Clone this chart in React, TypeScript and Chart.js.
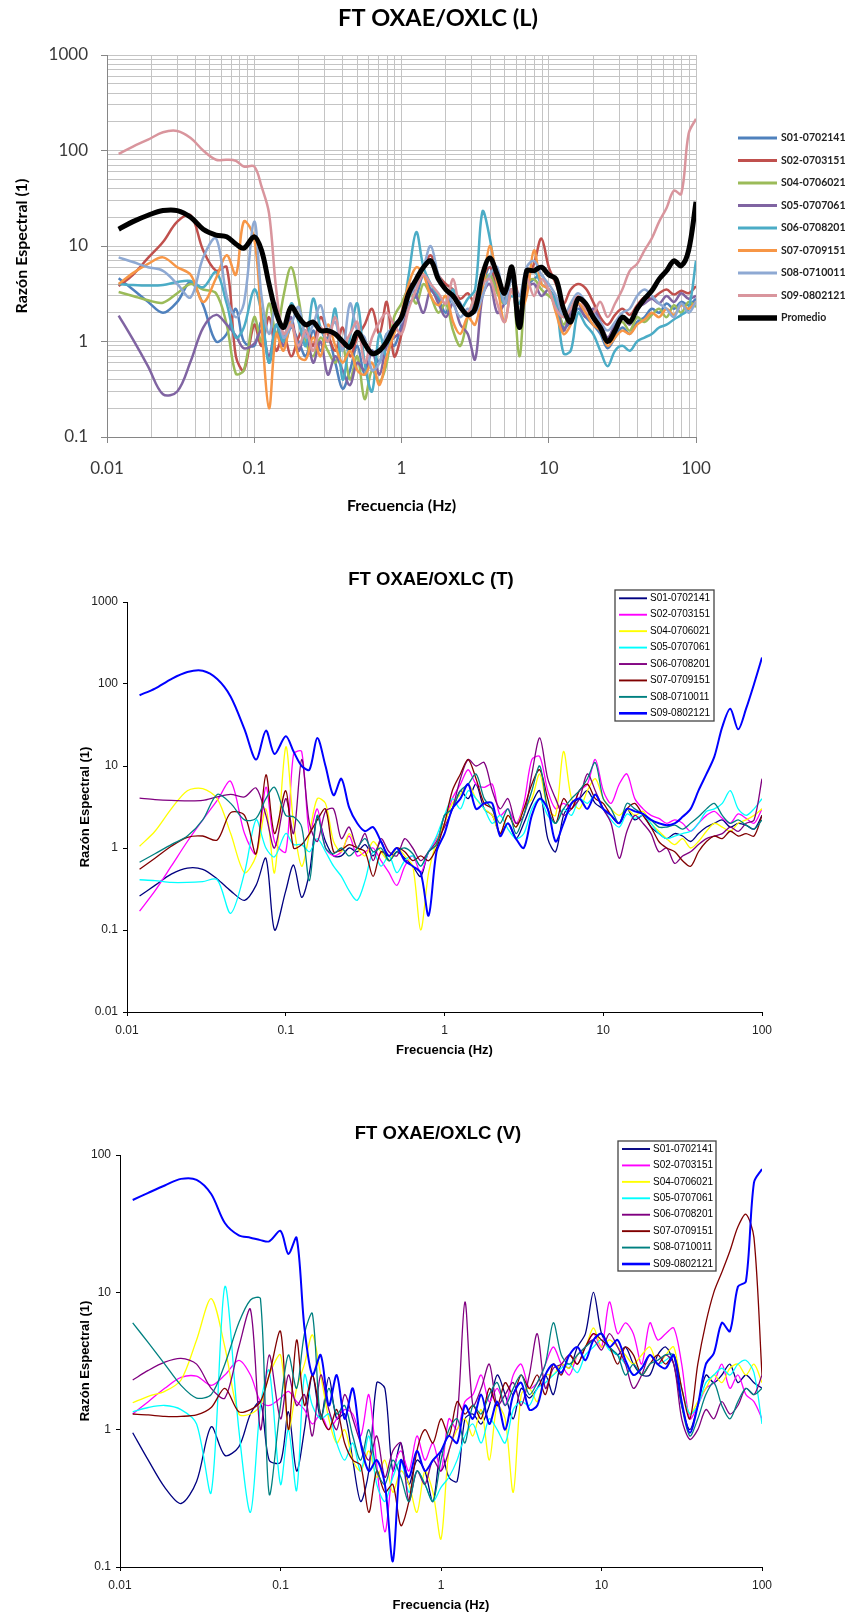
import React, { useEffect, useRef } from 'react';
import { Chart, registerables } from 'chart.js';

Chart.register(...registerables);

// ---------- shared axes data ----------
const FREQ = [
  0.012, 0.015, 0.019, 0.024, 0.03, 0.037, 0.045, 0.055, 0.065, 0.075, 0.085,
  0.1, 0.112, 0.126, 0.141, 0.158, 0.178, 0.2, 0.224, 0.251, 0.282, 0.316, 0.355, 0.398, 0.447, 0.501, 0.562, 0.631, 0.708, 0.794, 0.891,
  1, 1.12, 1.26, 1.41, 1.58, 1.78, 2, 2.24, 2.51, 2.82, 3.16, 3.55, 3.98, 4.47, 5.01, 5.62, 6.31, 7.08, 7.94, 8.91,
  10, 11.2, 12.6, 14.1, 15.8, 17.8, 20, 22.4, 25.1, 28.2, 31.6, 35.5, 39.8, 44.7, 50.1, 56.2, 63.1, 70.8, 79.4, 89.1, 100,
];

const X_MAJOR = [0.01, 0.1, 1, 10, 100];
const X_LABELS = ['0.01', '0.1', '1', '10', '100'];
const MINOR_STEPS = [2, 3, 4, 5, 6, 7, 8, 9];

const L_Y_MAJOR = [0.1, 1, 10, 100, 1000];
const L_Y_LABELS = ['0.1', '1', '10', '100', '1000'];
const T_Y_MAJOR = [0.01, 0.1, 1, 10, 100, 1000];
const T_Y_LABELS = ['0.01', '0.1', '1', '10', '100', '1000'];
const V_Y_MAJOR = [0.1, 1, 10, 100];
const V_Y_LABELS = ['0.1', '1', '10', '100'];

const SERIES_NAMES = ['S01-0702141', 'S02-0703151', 'S04-0706021', 'S05-0707061', 'S06-0708201', 'S07-0709151', 'S08-0710011', 'S09-0802121'];
const AVERAGE_NAME = 'Promedio';

// ---------- FT OXAE/OXLC (L) ----------
const L_S01 = [
  4.6, 3.5, 2.6, 2.0, 2.6, 4.2, 2.4, 1.0, 1.2, 2.2, 1.0,
  0.9, 1.6, 0.6, 1.2, 0.9, 1.4, 1.0, 0.7, 1.3, 0.8, 1.1, 0.6, 0.32, 0.5, 0.9, 0.45, 0.8, 0.6, 1.2, 0.9,
  1.5, 2.5, 3, 5, 3.5, 2.8, 2, 3.2, 2.5, 1.8, 2.6, 4, 6, 3.5, 2.8, 4.5, 2, 3.8, 4.5, 5,
  3.5, 2.8, 1.4, 1.6, 2.2, 1.8, 1.5, 1.2, 0.85, 1.1, 1.4, 1.2, 1.6, 1.8, 2.2, 2.0, 2.5, 2.2, 2.6, 2.4, 2.8,
];
const L_S02 = [
  3.8, 5, 7.5, 11, 18, 21, 9, 5.5, 6, 0.7, 0.5,
  1.5, 0.9, 1.8, 0.8, 1.2, 0.7, 1.1, 1.5, 0.9, 1.8, 1.2, 0.8, 1.4, 0.7, 1.1, 1.5, 2.2, 1.2, 2.6, 0.7,
  1.2, 3, 4.5, 6, 8, 5, 4, 3.5, 2.8, 3.2, 2.5, 4.5, 6, 4, 3.5, 5.5, 3, 4.5, 6.5, 12,
  6, 4, 2.5, 3.5, 4, 3.6, 2.6, 1.8, 1.5, 1.9, 2.2, 1.9, 2.4, 2.9, 2.8, 3.2, 3.5, 3.1, 3.4, 3.2, 3.8,
];
const L_S04 = [
  3.3, 3.0, 2.7, 2.55, 3.2, 4.0, 3.5, 3.2, 1.5, 0.46, 0.5,
  1.8, 1.0, 2.5, 1.2, 3, 6, 2.8, 1.0, 0.7, 1.1, 0.8, 0.6, 0.9, 0.4, 0.7, 0.25, 0.5, 0.38, 0.6, 1.8,
  2.5, 3.5, 2.5, 4, 3, 2, 2.5, 1.3, 0.9, 1.8, 3, 4, 5, 3.2, 2.5, 5, 0.7, 4, 4.5, 3.5,
  3, 2.5, 1.5, 2.2, 2.8, 2.4, 1.8, 1.5, 1.1, 1.4, 1.6, 1.3, 1.8, 1.6, 1.9, 2.2, 1.8, 2.4, 2.0, 2.6, 2.3,
];
const L_S05 = [
  1.87, 1.05, 0.55, 0.28, 0.3, 0.62, 1.4, 1.9, 1.5, 1.15, 0.85,
  0.95, 1.3, 0.7, 1.5, 0.9, 1.8, 0.8, 1.3, 0.6, 1.0, 0.45, 0.7, 0.5, 0.35, 0.6, 0.5, 0.8, 0.45, 0.9, 1.1,
  1.3, 4, 3, 2, 3.5, 2.5, 1.8, 2.5, 1.5, 1.2, 0.65, 3, 4, 2, 2.5, 3.5, 1.5, 3.5, 4, 3,
  3.5, 2.5, 1.3, 2, 2.5, 1.8, 2.2, 1.6, 1.1, 1.5, 1.8, 1.5, 2.2, 2.5, 2.8, 2.5, 3, 2.6, 3.2, 2.8, 3,
];
const L_S06 = [
  4.0, 3.9, 3.85, 3.9, 4.2, 4.3, 3.7, 5.3, 2.5, 1.1, 1.4,
  3.5, 2.0, 0.6, 1.5, 1.0, 2.5, 1.6, 0.9, 2.8, 1.4, 1.0, 2.2, 0.4, 1.1, 2.5, 0.6, 0.3, 1.2, 0.7, 1.5,
  1.8, 5, 14, 6, 4, 3, 2.5, 3.5, 2.2, 2.8, 3.5, 23, 12, 4, 2.5, 3, 2.5, 5, 5.5, 4,
  3.5, 2.5, 0.75, 0.8, 2, 1.5, 1.2, 0.8, 0.55, 0.8, 0.9, 0.8, 1.0, 1.1, 1.2, 1.4, 1.5, 1.7, 1.9, 2.2, 7,
];
const L_S07 = [
  4.0, 5.2, 6.5, 7.6, 6, 5, 2.6, 4.6, 8, 5, 18,
  12, 1.5, 0.2, 1.2, 0.8, 1.6, 0.7, 0.65, 1.1, 0.7, 1.5, 0.9, 0.6, 0.8, 0.5, 0.45, 0.6, 0.35, 0.7, 1.2,
  2, 4, 6, 5, 3, 2.4, 3, 1.6, 1.2, 1.8, 1.5, 3.5, 10, 4, 1.6, 3.5, 2, 3, 9, 4,
  3.5, 2, 1.2, 1.5, 2.5, 2, 1.5, 1.3, 0.9, 1.1, 1.3, 1.2, 1.5, 1.7, 2, 1.8, 2.2, 1.9, 2.4, 2.2, 2.6,
];
const L_S08 = [
  7.6, 6.8, 6, 5.5, 4, 2.9, 7.6, 12, 3, 1.8, 2.5,
  18, 3, 1.2, 2.5, 1.1, 1.5, 2.3, 1.1, 1.5, 2.4, 1.3, 1.6, 0.8, 2.5, 1.3, 1.1, 0.5, 0.6, 1.2, 1.4,
  1.6, 2.8, 4, 6, 10, 5, 3.5, 2.5, 1.8, 2.2, 2, 3, 5, 6, 2.5, 4.5, 3, 6, 7, 5,
  4, 3, 1.8, 2.5, 3.2, 2.6, 2, 1.6, 1.3, 1.6, 2, 2.2, 3, 3.5, 3, 2.5, 2.2, 1.8, 2.5, 2, 2.6,
];
const L_S09 = [
  92, 110, 130, 155, 160, 135, 100, 80, 80, 78, 68,
  68, 42, 22, 3.5, 1.2, 1.5, 0.9, 1.3, 0.8, 1.4, 1.0, 1.8, 0.9, 1.2, 1.6, 0.6, 1.1, 1.6, 2.0, 1.5,
  1.2, 2.2, 3.5, 5, 4, 3.2, 2.5, 4.5, 2.2, 2, 3, 4, 4.5, 2.5, 1.6, 3.5, 1.6, 4.5, 3, 4.5,
  3.5, 2.2, 1.8, 2.2, 3, 2.2, 2, 2.6, 1.8, 2.5, 3.5, 5.5, 6.5, 9, 12, 18, 25, 38, 35, 150, 215,
];
const L_AVG = [
  15, 18, 21, 23.5, 23.5, 20, 15, 13, 12.5, 10.5, 9.5,
  12.5, 9, 4, 2, 1.4, 2.3, 1.8, 1.5, 1.6, 1.3, 1.3, 1.2, 1.0, 0.87, 1.25, 0.95, 0.75, 0.8, 1.0, 1.4,
  1.8, 3.2, 4.5, 6, 7, 4.5, 3.5, 3, 2.3, 1.9, 2.2, 5, 7.5, 5, 3.2, 6, 1.4, 5.5, 5.5, 6,
  5, 4.5, 2.2, 1.6, 2.8, 2.5, 1.8, 1.4, 1.0, 1.3, 1.8, 1.6, 2.2, 2.8, 3.4, 4.5, 5.5, 7, 6.2, 9, 29,
];

// ---------- FT OXAE/OXLC (T) ----------
const T_S01 = [
  0.26, 0.35, 0.48, 0.57, 0.55, 0.42, 0.3, 0.23, 0.35, 0.75, 0.1,
  0.3, 0.62, 0.25, 0.5, 2.4, 1.2, 0.8, 0.8, 1.0, 0.9, 1.1, 0.8, 1.2, 0.7, 0.9, 0.75, 0.6, 0.45, 0.9, 1.1,
  2.5, 3, 5, 4, 6, 3, 2.5, 1.5, 2, 1.3, 2, 3.5, 5, 1.3, 0.9, 2.5, 3.5, 4, 5, 3.5,
  3, 2.5, 2, 3, 2.2, 2.5, 1.8, 1.5, 1.3, 1.5, 1.4, 1.2, 1.5, 1.8, 2, 2.2, 1.8, 2, 1.9, 1.7, 2.5,
];
const T_S02 = [
  0.17, 0.3, 0.6, 1.2, 2.2, 3.8, 6.5, 1.5, 0.85, 5.5, 1.2,
  0.9, 14, 15, 1.5, 3, 1.0, 0.8, 0.9, 1.4, 0.8, 0.9, 1.0, 0.7, 0.5, 0.35, 0.6, 0.8, 0.5, 0.9, 1.3,
  2, 4, 6, 9, 6, 5.5, 6, 2.5, 3, 2, 3.5, 12, 13, 5, 3, 3.5, 3, 5, 6, 12,
  5, 3.5, 6, 8, 4, 3, 2.5, 2.3, 2, 2.2, 2, 1.6, 2, 2.5, 2.8, 2.3, 2, 2.6, 2.3, 2, 3,
];
const T_S04 = [
  1.05, 1.6, 3, 5, 5.3, 4, 1.5, 0.5, 0.8, 3, 0.5,
  17, 2, 0.6, 1.5, 4, 3.5, 1.2, 0.9, 1.5, 1.0, 0.8, 1.2, 0.9, 0.7, 1.0, 0.8, 0.6, 0.1, 0.5, 1.2,
  2, 3.5, 4.5, 6, 4, 3, 2.5, 1.5, 2.5, 1.8, 3, 4, 8, 3, 2.5, 15, 4, 3, 5, 7,
  4, 3, 2.5, 3, 2.5, 2.8, 2, 1.6, 1.3, 1.1, 1.3, 1.0, 1.2, 1.6, 2, 1.8, 1.6, 2, 2.2, 2.5, 3,
];
const T_S05 = [
  0.41, 0.4, 0.38, 0.38, 0.39, 0.41, 0.16, 0.5, 2.2, 1.0, 0.78,
  1.5, 1.1, 1.1, 0.9, 1.3, 0.9, 0.6, 0.45, 0.3, 0.23, 0.4, 0.9, 0.6, 0.8, 0.5, 0.7, 0.8, 0.6, 0.9, 1.4,
  2.5, 4, 3, 5, 4, 3, 2, 2.5, 1.7, 1.3, 1.5, 3, 4, 2.5, 2, 3, 2.5, 4, 3.5, 4.5,
  3, 2.2, 1.8, 2.6, 2.3, 2.5, 2, 1.5, 1.3, 1.4, 1.5, 1.6, 2, 2.8, 3, 3.5, 5, 3, 2.5, 3, 4,
];
const T_S06 = [
  4.05, 3.9, 3.8, 3.75, 3.8, 4.2, 4.5, 4.2, 5.4, 2.5, 1.0,
  4, 1.5, 12, 2, 1.2, 2.8, 3, 1.3, 1.8, 1.0, 1.5, 0.7, 1.3, 0.9, 0.8, 1.3, 1.0, 0.7, 0.9, 1.2,
  1.8, 3, 7, 12, 10, 11, 5, 3, 4, 2, 2.5, 8, 22, 7, 4, 2.5, 3, 4, 8, 5,
  3, 2, 0.75, 1.6, 2.5, 2, 1.5, 0.9, 1.0, 0.65, 0.8, 0.9, 1.1, 1.3, 1.4, 1.5, 1.8, 1.6, 2, 2.2, 7,
];
const T_S07 = [
  0.55, 0.75, 1.05, 1.35, 1.4, 1.25, 2.7, 2.5, 0.85, 7.8, 1.5,
  5, 1.0, 1.1, 1.5, 2.2, 3, 0.9, 0.95, 1.1, 1.0, 0.9, 0.45, 0.9, 0.8, 1.0, 0.9, 0.7, 0.8, 0.7, 1.0,
  2, 5, 8, 12, 7, 3.5, 3, 1.5, 2.5, 1.8, 3, 6, 9, 4, 2, 4, 3, 5, 6, 4,
  3.5, 2.5, 2, 3, 3.5, 2.5, 1.8, 1.2, 1.0, 0.9, 0.7, 0.6, 0.9, 1.2, 1.4, 1.3, 1.6, 1.4, 1.5, 1.4, 2.5,
];
const T_S08 = [
  0.67, 0.85, 1.1, 1.4, 2.2, 4.5, 3.5, 2.2, 2.3, 4, 5.5,
  2.5, 2.4, 1.8, 0.4, 2.5, 1.0, 0.85, 1.0, 0.8, 1.0, 1.3, 0.9, 1.0, 0.7, 0.9, 1.0, 0.85, 0.6, 0.9, 1.1,
  2.5, 3, 5, 6, 8, 4, 3, 2, 3, 1.5, 2.5, 5, 10, 3, 2, 3, 4, 5, 7, 11,
  4, 3, 2, 3.5, 3, 2.6, 2.2, 1.8, 1.8, 1.9, 1.7, 2, 2.4, 3, 3.5, 2.5, 2, 2.2, 1.9, 1.7, 2.2,
];
const T_S09 = [
  73, 88, 115, 140, 145, 115, 70, 28, 12, 27, 14,
  23, 15, 10, 9, 22, 10, 4.4, 7, 3.1, 2, 1.6, 1.8, 1.2, 0.8, 1.0, 0.7, 0.6, 0.5, 0.15, 0.9,
  1.5, 3, 4, 6, 3, 3.5, 3.5, 1.4, 2, 1.3, 1, 2.5, 4, 3, 1.2, 2, 3.5, 4, 3, 4.5,
  3, 2.5, 2, 3, 2.8, 2.6, 2.2, 2, 1.9, 2, 2.4, 3, 5, 8, 13, 30, 50, 28, 50, 100, 210,
];

// ---------- FT OXAE/OXLC (V) ----------
const V_S01 = [
  0.95, 0.6, 0.38, 0.29, 0.42, 1.05, 0.65, 0.75, 1.3, 1.6, 0.6,
  0.58, 1.35, 0.5, 1.0, 2.5, 1.2, 2.4, 1.2, 1.3, 0.6, 0.3, 0.5, 2.2, 2, 0.5, 0.8, 0.4, 0.6, 0.5, 0.3,
  0.7, 0.45, 0.42, 1.2, 1.3, 1.1, 1.5, 2.5, 1.8, 1.2, 2, 1.7, 2, 2.5, 1.8, 3, 2.8, 4, 5, 10,
  5, 4, 3.5, 4, 3, 2.5, 2.5, 3.5, 4, 3, 1.5, 1.0, 1.5, 2.5, 2.2, 2.5, 3, 2.2, 2.5, 2.2, 2,
];
const V_S02 = [
  1.3, 1.6, 2.0, 2.4, 2.45, 2.1, 2.5, 3.2, 2.5, 1.6, 1.5,
  1.7, 1.9, 1.6, 1.4, 1.1, 1.3, 1.0, 1.2, 1.4, 1.3, 0.9, 1.8, 0.55, 0.18, 0.5, 0.7, 0.5, 0.9, 0.6, 0.8,
  0.5, 1.2, 1.0, 1.6, 1.8, 2.5, 1.6, 2, 1.5, 2.5, 3, 2, 2.2, 3, 4, 3, 2.5, 3.5, 4, 5,
  4, 8.5, 5, 6, 5, 3, 6, 4.5, 5, 5.5, 3, 1.2, 1.5, 2, 2.2, 3, 2, 2.5, 1.8, 1.6, 1.2,
];
const V_S04 = [
  1.57, 1.75, 1.9, 2.3, 4.5, 9, 4, 1.3, 1.3, 1.5, 2.5,
  3.5, 1.0, 2, 3, 4.9, 2.5, 1.2, 0.8, 1.0, 0.6, 0.5, 0.7, 0.45, 0.6, 0.35, 0.5, 0.4, 0.25, 0.5, 0.35,
  0.16, 0.7, 1.0, 1.2, 0.9, 1.4, 0.6, 1.5, 1.2, 0.35, 1.8, 2, 1.6, 2.5, 2.5, 3, 2.8, 3.5, 4, 5.5,
  4, 4.5, 4, 3.5, 3, 3.5, 4, 3, 3.5, 4, 2, 1.3, 1.6, 2, 2.5, 2.2, 2.8, 3, 2.5, 3, 2.2,
];
const V_S05 = [
  1.35, 1.45, 1.5, 1.4, 1.1, 0.35, 11, 1.0, 0.25, 1.5, 2.7,
  0.4, 1.0, 0.36, 2.5, 1.5, 1.2, 1.3, 0.8, 0.6, 0.8, 0.5, 0.9, 0.4, 0.3, 0.45, 0.6, 0.35, 0.5, 0.4, 0.3,
  0.38, 0.45, 0.6, 0.9, 1.1, 0.8, 1.2, 1.0, 0.8, 1.4, 1.6, 1.5, 2, 2.2, 2.5, 2.8, 3, 2.6, 3.5, 4,
  4.5, 3.8, 3.5, 3, 2.5, 2.8, 3.5, 3, 3.2, 3.5, 2, 1.3, 1.5, 2.2, 2.5, 2.8, 2.5, 3, 3.2, 2.6, 1.1,
];
const V_S06 = [
  2.3, 2.7, 3.1, 3.3, 3.0, 2.0, 1.7, 4, 7.5, 1.0, 3.5,
  1.2, 2.5, 1.5, 1.8, 0.9, 2.5, 1.4, 1.0, 1.8, 1.2, 0.8, 0.6, 0.9, 0.45, 0.7, 0.8, 0.3, 0.5, 0.4, 0.6,
  0.5, 0.7, 1.2, 8.5, 1.5, 2, 3, 1.5, 1.8, 2.2, 1.5, 2.5, 5, 2, 2.8, 3, 3.5, 3, 4, 4.5,
  3.8, 5, 4, 3, 2, 2.5, 3.5, 3, 3.5, 3, 1.2, 0.85, 1.0, 1.4, 1.2, 1.6, 1.3, 1.5, 2, 1.8, 2.5,
];
const V_S07 = [
  1.3, 1.28, 1.25, 1.25, 1.28, 1.45, 2.0, 1.35, 1.4, 1.6, 2.5,
  5.2, 1.0, 4.5, 1.5, 2.5, 1.3, 1.0, 1.4, 0.8, 0.6, 0.55, 0.25, 0.5, 0.35, 0.4, 0.2, 0.3, 0.7, 1.0, 0.8,
  1.2, 0.9, 1.6, 1.3, 1.5, 1.2, 2, 1.5, 2.2, 1.8, 2.5, 2, 2.5, 1.8, 3, 2.5, 3.5, 3, 4, 5,
  4.5, 4, 3, 4, 3.5, 2.5, 3, 3.5, 3, 3.5, 2, 1.2, 3, 6, 10, 14, 20, 30, 37, 25, 2.5,
];
const V_S08 = [
  6, 4.3, 3, 2.1, 1.7, 1.8, 3, 6, 8.8, 9, 0.34,
  1.5, 3.5, 2, 5, 7, 1.2, 2, 1.3, 1.5, 0.9, 0.6, 1.0, 0.5, 0.4, 0.6, 0.45, 0.3, 0.5, 0.4, 0.3,
  0.6, 1.0, 1.2, 0.8, 1.5, 1.3, 1.8, 2.2, 1.5, 2, 2.5, 1.8, 2.2, 3, 6, 3.5, 3, 3.5, 4, 4.5,
  5, 4, 3.5, 2.5, 3, 2.5, 3, 3.2, 3.5, 3.5, 1.5, 0.9, 1.2, 1.8, 2.2, 1.5, 1.2, 1.6, 2, 1.8, 2,
];
const V_S09 = [
  47, 53, 60, 67, 66, 52, 32, 26, 25, 24, 23.5,
  28, 19, 25, 5.5, 2.5, 3.5, 1.5, 2.5, 1.2, 2, 0.8, 0.5, 0.6, 0.4, 0.11, 0.6, 0.45, 0.7, 0.5, 0.6,
  0.7, 0.9, 0.8, 1.5, 1.2, 1.8, 1.1, 1.6, 1.0, 1.8, 2.2, 1.4, 1.5, 2.5, 3, 2.6, 3.5, 4, 3.2, 4.5,
  5, 4, 4.5, 3.2, 2.5, 2.8, 3.5, 3, 2.8, 3.5, 1.6, 0.95, 1.5, 3, 3.6, 6, 5.2, 11, 12, 63, 79,
];

// ---------- colours ----------
const L_COLORS = ['#4F81BD', '#C0504D', '#9BBB59', '#8064A2', '#4BACC6', '#F79646', '#8EA9D3', '#D9959D', '#000000'];
const TV_COLORS = ['#000080', '#FF00FF', '#FFFF00', '#00FFFF', '#800080', '#800000', '#008080', '#0000FF'];

// ---------- helpers ----------
function buildTickValues(majors: number[]) {
  const out: number[] = [];
  majors.forEach((m, i) => {
    out.push(m);
    if (i < majors.length - 1) MINOR_STEPS.forEach((k) => out.push(parseFloat((m * k).toPrecision(6))));
  });
  return out;
}

function labelFor(value: number, majors: number[], labels: string[]) {
  const idx = majors.findIndex((m) => Math.abs(value - m) / m < 1e-6);
  return idx >= 0 ? labels[idx] : '';
}

const overlayPlugin = {
  id: 'overlay',
  afterDraw(chart: any, _args: any, o: any) {
    const ctx = chart.ctx;
    ctx.save();
    ctx.fillStyle = '#000';
    ctx.font = o.titleFont;
    ctx.textAlign = 'center';
    ctx.textBaseline = 'middle';
    ctx.fillText(o.title, o.titleX, o.titleY);
    if (o.boxShow) {
      ctx.fillStyle = '#fff';
      ctx.fillRect(o.boxX, o.boxY, o.boxW, o.boxH);
      ctx.strokeStyle = o.boxColor;
      ctx.lineWidth = o.boxLine;
      ctx.strokeRect(o.boxX, o.boxY, o.boxW, o.boxH);
    }
    ctx.font = o.legendFont;
    ctx.textAlign = 'left';
    ctx.textBaseline = 'middle';
    ctx.lineCap = 'butt';
    chart.data.datasets.forEach((ds: any, i: number) => {
      const y = o.legendY + i * o.legendStep;
      ctx.strokeStyle = ds.borderColor;
      ctx.lineWidth = ds.legendWidth;
      ctx.beginPath();
      ctx.moveTo(o.lineX1, y);
      ctx.lineTo(o.lineX2, y);
      ctx.stroke();
      ctx.fillStyle = o.legendColor;
      ctx.fillText(ds.label, o.textX, y);
    });
    ctx.restore();
  },
};

type PanelStyle = {
  top: number; height: number;
  padding: { left: number; right: number; top: number; bottom: number };
  yWidth: number; xHeight: number;
  yMajors: number[]; yLabels: string[];
  grid: boolean; gridColor: string; axisColor: string; tickColor: string;
  tickFont: any; tickColorText: string; tickLen: number; yTickPad: number; xTickPad: number;
  titleFont: any; yTitlePad: number; xTitlePad: number;
  tension: number;
  overlay: any;
};

function makeAxis(kind: 'x' | 'y', s: PanelStyle) {
  const majors = kind === 'x' ? X_MAJOR : s.yMajors;
  const labels = kind === 'x' ? X_LABELS : s.yLabels;
  const tickVals = buildTickValues(majors);
  return {
    type: 'logarithmic',
    position: kind === 'x' ? 'bottom' : 'left',
    min: majors[0],
    max: majors[majors.length - 1],
    afterBuildTicks: (scale: any) => {
      scale.ticks = tickVals.map((v) => ({ value: v, major: false }));
    },
    afterFit: (scale: any) => {
      if (kind === 'x') scale.height = s.xHeight;
      else scale.width = s.yWidth;
    },
    ticks: {
      autoSkip: false,
      maxRotation: 0,
      minRotation: 0,
      padding: kind === 'x' ? s.xTickPad : s.yTickPad,
      color: s.tickColorText,
      font: s.tickFont,
      callback: (v: any) => labelFor(Number(v), majors, labels),
    },
    grid: {
      display: true,
      drawOnChartArea: s.grid,
      color: s.gridColor,
      lineWidth: 1,
      tickLength: s.tickLen,
      tickWidth: 1,
      tickColor: (c: any) => (c.tick && labelFor(c.tick.value, majors, labels) ? s.tickColor : 'rgba(0,0,0,0)'),
    },
    border: { display: true, color: s.axisColor, width: 1 },
    title: {
      display: true,
      text: kind === 'x' ? 'Frecuencia (Hz)' : 'Razón Espectral (1)',
      color: '#000',
      font: s.titleFont,
      padding: kind === 'x' ? { top: 0, bottom: s.xTitlePad } : { top: s.yTitlePad, bottom: 0 },
    },
  };
}

function ChartPanel({ series, names, colors, widths, style }: { series: number[][]; names: string[]; colors: string[]; widths: number[]; style: PanelStyle }) {
  const ref = useRef<HTMLCanvasElement | null>(null);
  useEffect(() => {
    if (!ref.current) return;
    const datasets = series.map((vals, i) => ({
      label: names[i],
      data: FREQ.map((f, j) => ({ x: f, y: vals[j] ?? null })),
      borderColor: colors[i],
      backgroundColor: colors[i],
      borderWidth: widths[i],
      legendWidth: widths[i] + 0.6,
      pointRadius: 0,
      tension: style.tension,
      fill: false,
      order: -i,
    }));
    const chart = new Chart(ref.current, {
      type: 'line',
      data: { datasets },
      options: {
        responsive: false,
        devicePixelRatio: 1,
        animation: false,
        events: [],
        layout: { padding: style.padding },
        plugins: {
          legend: { display: false },
          title: { display: false },
          tooltip: { enabled: false },
          overlay: style.overlay,
        },
        scales: {
          x: makeAxis('x', style),
          y: makeAxis('y', style),
        },
      } as any,
      plugins: [overlayPlugin],
    } as any);
    return () => chart.destroy();
  }, []);
  return (
    <canvas
      ref={ref}
      width={850}
      height={style.height}
      style={{ position: 'absolute', left: 0, top: style.top, width: 850, height: style.height }}
    />
  );
}

const EXCEL_FONT = 'Lato, "Open Sans", sans-serif';
const ARIAL = '"Liberation Sans", Arial, sans-serif';

const L_STYLE: PanelStyle = {
  top: 0, height: 540,
  padding: { left: 0, right: 154, top: 55, bottom: 0 },
  yWidth: 107, xHeight: 103,
  yMajors: L_Y_MAJOR, yLabels: L_Y_LABELS,
  grid: true, gridColor: '#C4C4C4', axisColor: '#868686', tickColor: '#868686',
  tickFont: { family: EXCEL_FONT, size: 17 }, tickColorText: '#3a3a3a', tickLen: 6, yTickPad: 13, xTickPad: 15,
  titleFont: { family: EXCEL_FONT, size: 16, weight: 'bold' }, yTitlePad: 12, xTitlePad: 25,
  tension: 0.35,
  overlay: {
    title: 'FT OXAE/OXLC (L)', titleFont: `bold 23.5px ${EXCEL_FONT}`, titleX: 438, titleY: 18,
    boxShow: false, boxX: 0, boxY: 0, boxW: 0, boxH: 0, boxColor: '#000', boxLine: 1,
    legendFont: `bold 10.5px ${EXCEL_FONT}`, legendColor: '#222', legendY: 138, legendStep: 22.5,
    lineX1: 738, lineX2: 777, textX: 781,
  },
};

const T_STYLE: PanelStyle = {
  top: 560, height: 500,
  padding: { left: 72, right: 88, top: 42, bottom: 0 },
  yWidth: 55, xHeight: 48,
  yMajors: T_Y_MAJOR, yLabels: T_Y_LABELS,
  grid: false, gridColor: 'rgba(0,0,0,0)', axisColor: '#000', tickColor: '#000',
  tickFont: { family: ARIAL, size: 12 }, tickColorText: '#222', tickLen: 4, yTickPad: 5, xTickPad: 7,
  titleFont: { family: ARIAL, size: 13, weight: 'bold' }, yTitlePad: 6, xTitlePad: 2,
  tension: 0.3,
  overlay: {
    title: 'FT OXAE/OXLC (T)', titleFont: `bold 18.5px ${ARIAL}`, titleX: 431, titleY: 20,
    boxShow: true, boxX: 615, boxY: 30, boxW: 99, boxH: 131, boxColor: '#444', boxLine: 1.3,
    legendFont: `10px ${ARIAL}`, legendColor: '#000', legendY: 38.3, legendStep: 16.43,
    lineX1: 619, lineX2: 647, textX: 650,
  },
};

const V_STYLE: PanelStyle = {
  top: 1110, height: 504,
  padding: { left: 72, right: 88, top: 45, bottom: 0 },
  yWidth: 48, xHeight: 47,
  yMajors: V_Y_MAJOR, yLabels: V_Y_LABELS,
  grid: false, gridColor: 'rgba(0,0,0,0)', axisColor: '#000', tickColor: '#000',
  tickFont: { family: ARIAL, size: 12 }, tickColorText: '#222', tickLen: 4, yTickPad: 5, xTickPad: 7,
  titleFont: { family: ARIAL, size: 13, weight: 'bold' }, yTitlePad: 6, xTitlePad: 1,
  tension: 0.3,
  overlay: {
    title: 'FT OXAE/OXLC (V)', titleFont: `bold 18.5px ${ARIAL}`, titleX: 438, titleY: 24,
    boxShow: true, boxX: 618, boxY: 31, boxW: 98, boxH: 130, boxColor: '#444', boxLine: 1.3,
    legendFont: `10px ${ARIAL}`, legendColor: '#000', legendY: 39, legendStep: 16.43,
    lineX1: 622, lineX2: 650, textX: 653,
  },
};

const L_SERIES = [L_S01, L_S02, L_S04, L_S05, L_S06, L_S07, L_S08, L_S09, L_AVG];
const T_SERIES = [T_S01, T_S02, T_S04, T_S05, T_S06, T_S07, T_S08, T_S09];
const V_SERIES = [V_S01, V_S02, V_S04, V_S05, V_S06, V_S07, V_S08, V_S09];

const L_WIDTHS = [2.5, 2.5, 2.5, 2.5, 2.5, 2.5, 2.5, 2.5, 5];
const TV_WIDTHS = [1.3, 1.3, 1.3, 1.3, 1.3, 1.3, 1.3, 2];

export default function App() {
  return (
    <div style={{ position: 'absolute', left: 0, top: 0, width: 850, height: 1614, background: '#fff' }}>
      <ChartPanel series={L_SERIES} names={[...SERIES_NAMES, AVERAGE_NAME]} colors={L_COLORS} widths={L_WIDTHS} style={L_STYLE} />
      <ChartPanel series={T_SERIES} names={SERIES_NAMES} colors={TV_COLORS} widths={TV_WIDTHS} style={T_STYLE} />
      <ChartPanel series={V_SERIES} names={SERIES_NAMES} colors={TV_COLORS} widths={TV_WIDTHS} style={V_STYLE} />
    </div>
  );
}
